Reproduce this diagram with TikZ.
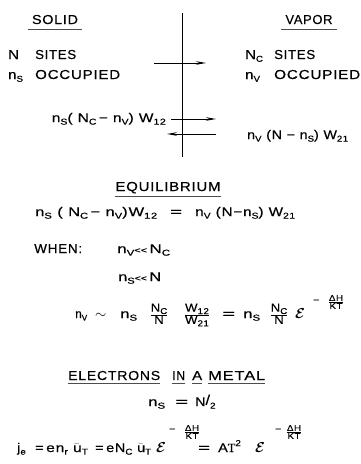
\documentclass[tikz,border=0pt]{standalone}
\usepackage{amsmath}
\usepackage{graphicx}
\usepackage{fontspec}
\setmainfont{Liberation Sans}[FakeStretch=1.15, LetterSpace=6, FakeBold=0.4]
\newfontfamily\serift{Liberation Serif}[FakeBold=0.4]
\usetikzlibrary{arrows.meta}
\newcommand\lo[1]{\raisebox{-0.4ex}{\fontsize{8.5}{8.5}\selectfont #1}}
\newcommand\hi[1]{\raisebox{0.9ex}{\fontsize{8.5}{8.5}\selectfont #1}}
\newcommand\fitw[2]{\resizebox{#1pt}{\height}{#2}}
\newcommand\xfr[2]{\ensuremath{\genfrac{}{}{0.5pt}{}{\hbox{\fontsize{8.5}{8.5}\selectfont #1}}{\hbox{\fontsize{8.5}{8.5}\selectfont #2}}}}
\newcommand\bfr[2]{\ensuremath{\genfrac{}{}{0.6pt}{}{\hbox{\fontsize{11.5}{11.5}\selectfont #1}}{\hbox{\fontsize{11.5}{11.5}\selectfont #2}}}}
\newcommand\eps{\ensuremath{\boldsymbol{\mathcal{E}}}}
\newcommand\ubar{\ensuremath{\bar{\mathrm{u}}}\kern1pt}
\newcommand\mylt{\fontsize{8}{8}\selectfont<\kern0pt<}
\begin{document}
\begin{tikzpicture}[x=1pt,y=-1pt,
  txt/.style={inner sep=0pt, font=\fontsize{13}{13}\selectfont},
  eq/.style={inner sep=0pt, font=\fontsize{12.5}{12.5}\selectfont},
  ex/.style={inner sep=0pt, font=\fontsize{9}{9}\selectfont},
  ep/.style={inner sep=0pt, font=\fontsize{15}{15}\selectfont},
  uline/.style={line width=0.6pt, black!70},
  arr/.style={line width=0.9pt, -{Stealth[length=10pt,width=3.6pt]}},
  arl/.style={line width=0.9pt, {Stealth[length=10pt,width=3.6pt]}-}]
\useasboundingbox (0,0) rectangle (361,464);
% headings
\node[txt, anchor=base] (solid) at (55,24) {\fitw{46}{SOLID}};
\node[txt, anchor=base] (vapor) at (309,24) {\fitw{47}{VAPOR}};
\draw[uline] ([xshift=-4pt,yshift=-5pt]solid.south west) -- ([xshift=4pt,yshift=-5pt]solid.south east);
\draw[uline] ([xshift=-4pt,yshift=-5pt]vapor.south west) -- ([xshift=4pt,yshift=-5pt]vapor.south east);
% left
\node[txt, anchor=base west] (n1) at (8,59) {N};
\node[txt, anchor=base west] (s1) at (35,59) {\fitw{41}{SITES}};
\node[txt, anchor=base west] (n2) at (8,79) {n\lo{S}};
\node[txt, anchor=base west] (o1) at (35,79) {\fitw{85}{OCCUPIED}};
% right
\node[txt, anchor=base west] (n3) at (245,59) {N\lo{C}};
\node[txt, anchor=base west] (s2) at (274,59) {\fitw{41}{SITES}};
\node[txt, anchor=base west] (n4) at (245,79) {n\lo{V}};
\node[txt, anchor=base west] (o2) at (274,79) {\fitw{86}{OCCUPIED}};
% boundary line and arrows
\coordinate (vt) at (182,13);
\coordinate (vb) at (182,157);
\draw[line width=1pt] (vt) -- (vb);
\coordinate (a1s) at (154,63); \coordinate (a1e) at (206,63);
\draw[arr] (a1s) -- (a1e);
\coordinate (a2s) at (171,119); \coordinate (a2e) at (216,119);
\draw[arr] (a2s) -- (a2e);
\coordinate (a3s) at (167,134); \coordinate (a3e) at (216,134);
\draw[arl] (a3s) -- (a3e);
\node[eq, anchor=base east] (fl) at (166,122) {\fitw{114}{n\lo{S}( N\lo{C}\,− n\lo{V}) W\lo{12}}};
\node[eq, anchor=base west] (fr) at (247,139) {\fitw{101}{n\lo{V} (N − n\lo{S}) W\lo{21}}};
% equilibrium
\node[txt, anchor=base] (eqh) at (168,191) {\fitw{105}{EQUILIBRIUM}};
\draw[uline] ([yshift=-3pt]eqh.south west) -- ([yshift=-3pt]eqh.south east);
\node[eq, anchor=base west] (eql) at (35,216) {\fitw{122}{n\lo{S} ( N\lo{C}\,− n\lo{V})W\lo{12}}};
\node[eq, anchor=base west] (eqm) at (170,216) {\fitw{12}{=}};
\node[eq, anchor=base west] (eqr) at (195,216) {\fitw{100}{n\lo{V} (N−n\lo{S}) W\lo{21}}};
\node[txt, anchor=base west] (when) at (34,253) {\fitw{48}{WHEN:}};
\node[eq, anchor=base west] (c1) at (117,253) {\fitw{53}{n\lo{V}\mylt\fontsize{12.5}{12.5}\selectfont\,N\lo{C}}};
\node[eq, anchor=base west] (c2) at (118,281) {\fitw{43}{n\lo{S}\mylt\fontsize{12.5}{12.5}\selectfont\,N}};
% ratio line
\node[eq, anchor=base west] (r1a) at (75,318) {\fitw{12}{n\lo{V}}};
\node[eq, anchor=base west, font=\fontsize{15}{15}\selectfont] (r1b) at (95,318) {$\sim$};
\node[eq, anchor=base west] (r1c) at (120,318) {\fitw{17}{n\lo{S}}};
\node[eq, anchor=base] (r1d) at (159,318) {\bfr{N\lo{C}}{N}};
\node[eq, anchor=base] (r1e) at (197,318) {\bfr{W\lo{12}}{W\lo{21}}};
\node[eq, anchor=base west] (r1f) at (222,318) {\fitw{13}{=}};
\node[eq, anchor=base west] (r1g) at (243,318) {\fitw{17}{n\lo{S}}};
\node[eq, anchor=base] (r1h) at (279,318) {\bfr{N\lo{C}}{N}};
\node[ep, anchor=base west] (r1i) at (295,318) {\eps};
\node[ex, anchor=base west] (r1j) at (313,303) {−};
\node[ex, anchor=center] (r1k) at (336,302) {\xfr{ΔH}{KT}};
% electrons
\node[txt, anchor=base west] (w1) at (68,380) {\fitw{92}{ELECTRONS}};
\node[txt, anchor=base west] (w2) at (172,380) {\fitw{13}{IN}};
\node[txt, anchor=base west] (w3) at (192,380) {\fitw{10}{A}};
\node[txt, anchor=base west] (w4) at (208,380) {\fitw{57}{METAL}};
\foreach \w in {w1,w2,w3,w4}
  \draw[uline] ([yshift=-3pt]\w.south west) -- ([yshift=-3pt]\w.south east);
\node[eq, anchor=base west] (ns1) at (148,406) {\fitw{17}{n\lo{S}}};
\node[eq, anchor=base west] (ns2) at (175,406) {\fitw{13}{=}};
\node[eq, anchor=base west] (ns3) at (195,406) {N\raisebox{0.2ex}{\fontsize{14}{14}\selectfont/}\lo{2}};
% current density line
\node[eq, anchor=base west] (je1) at (17,452) {j\lo{e}};
\node[eq, anchor=base west] (je2) at (35,452) {=};
\node[eq, anchor=base west] (je3) at (46,452) {\fitw{42}{en\lo{r} \ubar\lo{T}}};
\node[eq, anchor=base west] (je5) at (95,452) {=};
\node[eq, anchor=base west] (je6) at (106,452) {\fitw{45}{eN\lo{C} \ubar\lo{T}}};
\node[ep, anchor=base west] (je8) at (156,452) {\eps};
\node[ex, anchor=base west] (je9) at (169,432) {−};
\node[ex, anchor=center] (je10) at (192,432) {\xfr{ΔH}{KT}};
\node[eq, anchor=base west] (je11) at (198,452) {\fitw{12}{=}};
\node[eq, anchor=base west] (je12) at (218,452) {A{\serift T}\hi{2}};
\node[ep, anchor=base west] (je13) at (255,452) {\eps};
\node[ex, anchor=base west] (je14) at (275,432) {−};
\node[ex, anchor=center] (je15) at (294,432) {\xfr{ΔH}{KT}};
\end{tikzpicture}
\end{document}
